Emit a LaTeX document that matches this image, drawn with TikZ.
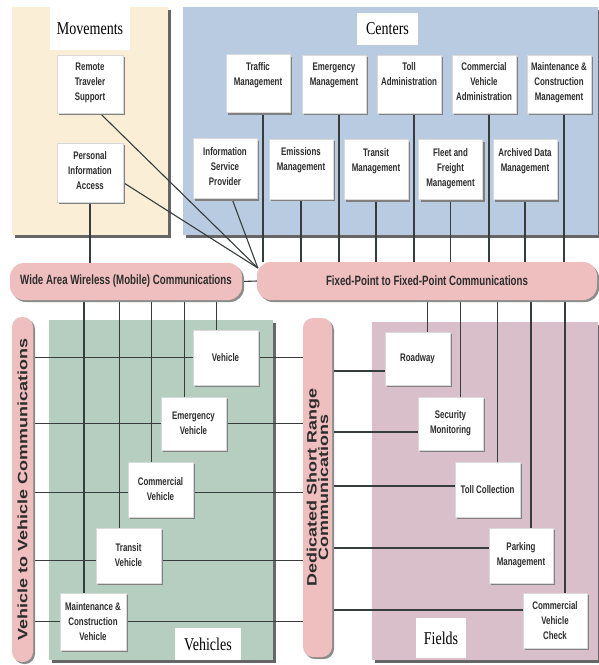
\documentclass[tikz,border=0pt]{standalone}
\usepackage{fontspec}
\usetikzlibrary{calc,shadows}
\newfontfamily\boxfont[FakeStretch=0.72]{Liberation Sans}
\newfontfamily\commfont[FakeStretch=1.32]{Liberation Sans}
\newfontfamily\titlefont[FakeStretch=0.78]{Liberation Serif}
\definecolor{MoveClr}{RGB}{250,239,214}
\definecolor{CenterClr}{RGB}{185,203,225}
\definecolor{VehClr}{RGB}{181,206,191}
\definecolor{FieldClr}{RGB}{216,191,201}
\definecolor{PillClr}{RGB}{239,190,190}
\definecolor{WireClr}{RGB}{55,60,60}
\definecolor{TextClr}{RGB}{45,45,45}
\pgfdeclarelayer{back}
\pgfdeclarelayer{wires}
\pgfsetlayers{back,wires,main}
\newcommand{\toplines}[1]{\parbox[c][42pt][t]{60pt}{\centering #1}}

\begin{document}
\begin{tikzpicture}[x=1pt,y=-1pt,
  area/.style={drop shadow={shadow xshift=3pt,shadow yshift=-3pt,fill=black!60,opacity=1}},
  unit/.style={fill=white,draw=black!15,line width=.4pt,minimum width=64pt,minimum height=57pt,
    inner sep=1pt,align=center,text=TextClr,font=\boxfont\bfseries\fontsize{11}{15}\selectfont,
    drop shadow={shadow xshift=2pt,shadow yshift=-2pt,fill=black!50,opacity=1}},
  title/.style={fill=white,inner sep=0pt,font=\titlefont\fontsize{18}{20}\selectfont},
  hpill/.style={fill=PillClr,rounded corners=14pt,inner sep=0pt,text=TextClr,
    font=\boxfont\bfseries\fontsize{13.5}{15}\selectfont,
    drop shadow={shadow xshift=2pt,shadow yshift=-2pt,fill=black!45,opacity=1}},
  vpill/.style={fill=PillClr,rounded corners=10pt,inner sep=0pt,text=TextClr,
    font=\commfont\bfseries\fontsize{13.6}{11.5}\selectfont,
    drop shadow={shadow xshift=2pt,shadow yshift=-2pt,fill=black!45,opacity=1}},
  wire/.style={draw=WireClr,line width=1.1pt}]
\useasboundingbox (0,0) rectangle (598,665);

\begin{pgfonlayer}{back}
\path[area,fill=MoveClr] (12,7) rectangle (168,235);
\path[area,fill=CenterClr] (183,7) rectangle (598,235);
\path[area,fill=VehClr] (49,320) rectangle (273,660);
\path[area,fill=FieldClr] (372,322) rectangle (598,660);
\end{pgfonlayer}

\node[title,minimum width=80pt,minimum height=43pt] (movlbl) at (90,28.5) {Movements};
\node[title,minimum width=61pt,minimum height=32pt] (cenlbl) at (387.5,29) {Centers};
\node[title,minimum width=66pt,minimum height=32pt] (vehlbl) at (208,644) {Vehicles};
\node[title,minimum width=50pt,minimum height=40pt] (fldlbl) at (441,638) {Fields};

\node[unit,minimum width=66pt,minimum height=58pt] (rts) at (90,84) {\toplines{Remote\\Traveler\\Support}};
\node[unit,minimum width=66pt,minimum height=59pt] (pia) at (90,172.5) {\toplines{Personal\\Information\\Access}};

\node[unit,minimum height=58pt] (traffic) at (258,83.5) {\toplines{Traffic\\Management}};
\node[unit,minimum height=58pt] (emgmgmt) at (334,84) {\toplines{Emergency\\Management}};
\node[unit,minimum height=58pt] (tolladm) at (409,84) {\toplines{Toll\\Administration}};
\node[unit,minimum height=58pt] (cvadm) at (484,84) {\toplines{Commercial\\Vehicle\\Administration}};
\node[unit,minimum height=58pt] (mcmgmt) at (559,84) {\toplines{Maintenance \&\\Construction\\Management}};
\node[unit,minimum height=60pt] (isp) at (225,168.5) {\toplines{Information\\Service\\Provider}};
\node[unit,minimum height=60pt] (emis) at (301,169) {\toplines{Emissions\\Management}};
\node[unit,minimum height=60pt] (trnmgmt) at (376,169.5) {\toplines{Transit\\Management}};
\node[unit,minimum height=60pt] (fleet) at (450.5,169.5) {\toplines{Fleet and\\Freight\\Management}};
\node[unit,minimum height=60pt] (archive) at (525,169.5) {\toplines{Archived Data\\Management}};

\node[unit,minimum width=65pt,minimum height=55pt] (veh) at (225.5,357.5) {Vehicle};
\node[unit,minimum width=65pt,minimum height=53pt] (emveh) at (193.5,423.5) {Emergency\\Vehicle};
\node[unit,minimum width=65pt,minimum height=55pt] (comveh) at (160.5,489.5) {Commercial\\Vehicle};
\node[unit,minimum width=65pt,minimum height=55pt] (trnveh) at (128.5,555.5) {Transit\\Vehicle};
\node[unit,minimum width=66pt,minimum height=57pt] (mcveh) at (93,621.5) {Maintenance \&\\Construction\\Vehicle};

\node[unit,minimum width=65pt,minimum height=53pt] (road) at (417.5,358.5) {Roadway};
\node[unit,minimum width=65pt,minimum height=53pt] (secmon) at (450.5,423.5) {Security\\Monitoring};
\node[unit,minimum width=65pt,minimum height=55pt] (tollcol) at (487.5,489.5) {Toll Collection};
\node[unit,minimum width=64pt,minimum height=55pt] (park) at (521,555.5) {Parking\\Management};
\node[unit,minimum width=64pt,minimum height=55pt] (cvcheck) at (555,620.5) {Commercial\\Vehicle\\Check};

\node[hpill,minimum width=232pt,minimum height=37pt] (wide) at (126,281.5) {Wide Area Wireless (Mobile) Communications};
\node[hpill,minimum width=340pt,minimum height=38pt] (fixed) at (427,281) {Fixed-Point to Fixed-Point Communications};
\node[vpill,minimum width=21pt,minimum height=345pt] (v2v) at (22.5,489.5)
  {\rotatebox{90}{Vehicle to Vehicle Communications}};
\node[vpill,minimum width=29pt,minimum height=339pt] (dsrc) at (317.5,487.5)
  {\rotatebox{90}{\parbox{210pt}{\centering\lineskiplimit=-20pt Dedicated Short Range\\Communications}}};

\coordinate (hub) at ($(fixed.west)+(1,-13)$);

\begin{pgfonlayer}{wires}
\draw[wire] ($(rts.south)+(10,0)$) -- (hub);
\draw[wire] ($(pia.east)+(0,10)$) -- (hub);
\draw[wire] ($(isp.south)+(7,0)$) -- (hub);
\draw[wire] (pia.south) -- (pia.south |- wide.north);
\draw[wire] (wide.east) -- (fixed.west);
\foreach \b in {traffic,emgmgmt,tolladm,cvadm,mcmgmt}{
  \path ($(\b.south)+(5,0)$) coordinate (t);
  \draw[wire] (t) -- (t |- fixed.north);
}
\foreach \b in {emis,trnmgmt,fleet,archive}
  \draw[wire] (\b.south) -- (\b.south |- fixed.north);
\foreach \b/\d in {road/12.5,secmon/8.5,tollcol/-3.5,park/-7.5,cvcheck/-10.5}{
  \path ($(\b.north)+(10,0)$) coordinate (f);
  \draw[wire] (f |- fixed.south) -- (f);
  \path ($(\b.west)+(0,\d)$) coordinate (g);
  \draw[wire] (dsrc.east |- g) -- (g);
}
\foreach \b/\d in {veh/0,emveh/0,comveh/3,trnveh/5,mcveh/0}{
  \path ($(\b.north)+(-9,0)$) coordinate (v);
  \draw[wire] (v |- wide.south) -- (v);
  \path ($(\b.center)+(0,\d)$) coordinate (h);
  \draw[wire] (v2v.east |- h) -- (dsrc.west |- h);
}
\end{pgfonlayer}
\end{tikzpicture}
\end{document}
